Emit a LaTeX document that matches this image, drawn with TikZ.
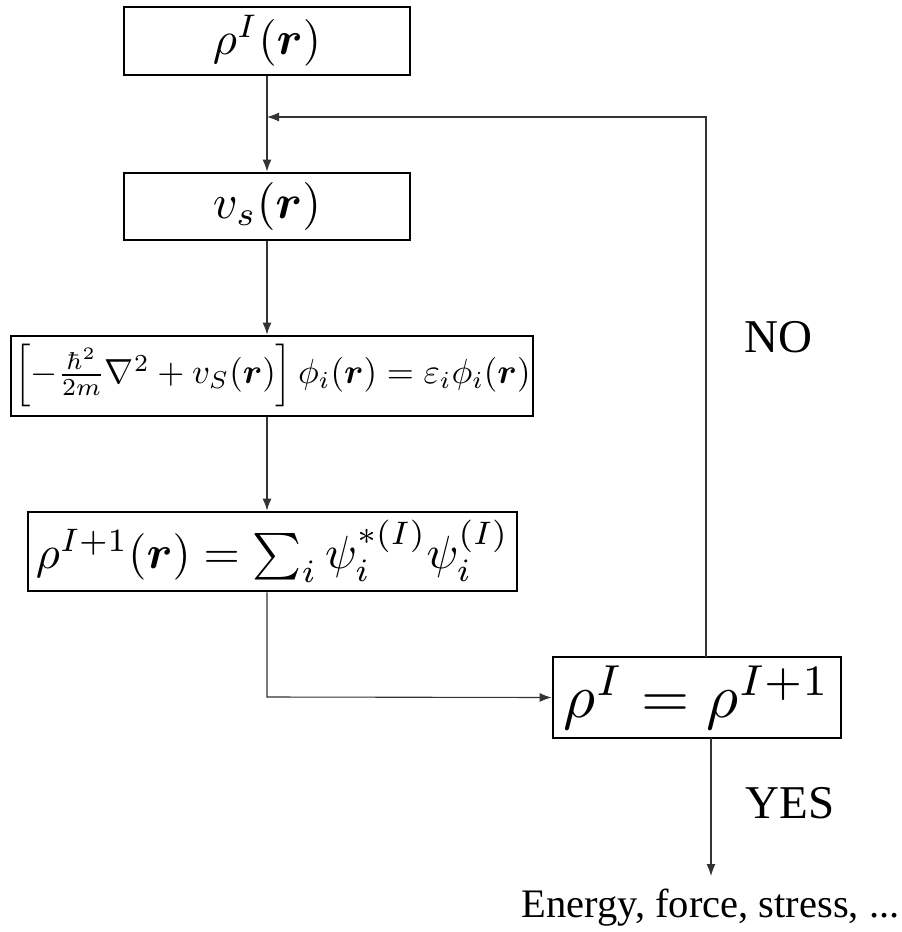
\documentclass[tikz,border=0pt]{standalone}
\usepackage{amsmath,bm}
\usepackage{graphicx}
\usepackage[no-math]{fontspec}
\newfontfamily\tnr{Liberation Serif}
\usetikzlibrary{arrows.meta}
\tikzset{
  box/.style={draw=black, line width=2.8pt, rectangle, inner sep=0pt, fill=white},
  conn/.style={draw=black!80, line width=1.1pt},
  arr/.style={conn, -{Latex[length=12pt,width=9pt]}},
  lbl/.style={inner sep=0pt, anchor=base, font=\tnr\fontsize{47}{50}\selectfont},
}
\begin{document}
\begin{tikzpicture}[x=1pt,y=-1pt]
\useasboundingbox (0,0) rectangle (902,932);
\node[box, minimum width=286pt, minimum height=68pt] (b1) at (267,41)
  {\resizebox{108pt}{!}{$\rho^I(\bm r)$}};
\node[box, minimum width=286pt, minimum height=67pt] (b2) at (267,206.5)
  {\resizebox{108pt}{!}{$v_s(\bm r)$}};
\node[box, minimum width=522pt, minimum height=80pt] (b3) at (272,376) {};
\node[inner sep=0pt] (t3) at (272.5,375)
  {\resizebox{516pt}{!}{$\Bigl[-\frac{\hbar^2}{2m}\nabla^2+v_S(\bm r)\Bigr]\,\phi_i(\bm r)=\varepsilon_i\phi_i(\bm r)$}};
\node[box, minimum width=489pt, minimum height=79pt] (b4) at (272.5,551.5)
  {\resizebox{473pt}{!}{$\rho^{I+1}(\bm r)=\sum_i\psi_i^{*(I)}\psi_i^{(I)}$}};
\node[box, minimum width=288pt, minimum height=81pt] (b5) at (697,697.5)
  {\resizebox{266pt}{!}{$\rho^I=\rho^{I+1}$}};
\node[lbl] (no) at (778,352) {NO};
\node[lbl] (yes) at (790,818) {YES};
\node[inner sep=0pt, anchor=base, font=\tnr\fontsize{40.5}{42}\selectfont] (out) at (710.5,917) {Energy, force, stress, ...};
\coordinate (fbtop) at (706,117);
\coordinate (fbstart) at (706,657);
\coordinate (bend) at (267,697);
\coordinate (ystart) at (711,738);
\coordinate (yend) at (711,876);
\draw[arr] (b1.south) -- (b2.north);
\draw[arr] (b2.south) -- (b2.south |- b3.north);
\draw[arr] (b2.south |- b3.south) -- (b2.south |- b4.north);
\draw[arr] (b2.south |- b4.south) -- (bend) -- (b5.west);
\draw[arr] (fbstart) -- (fbtop) -- (b1.south |- fbtop);
\draw[arr] (ystart) -- (yend);
\end{tikzpicture}
\end{document}
